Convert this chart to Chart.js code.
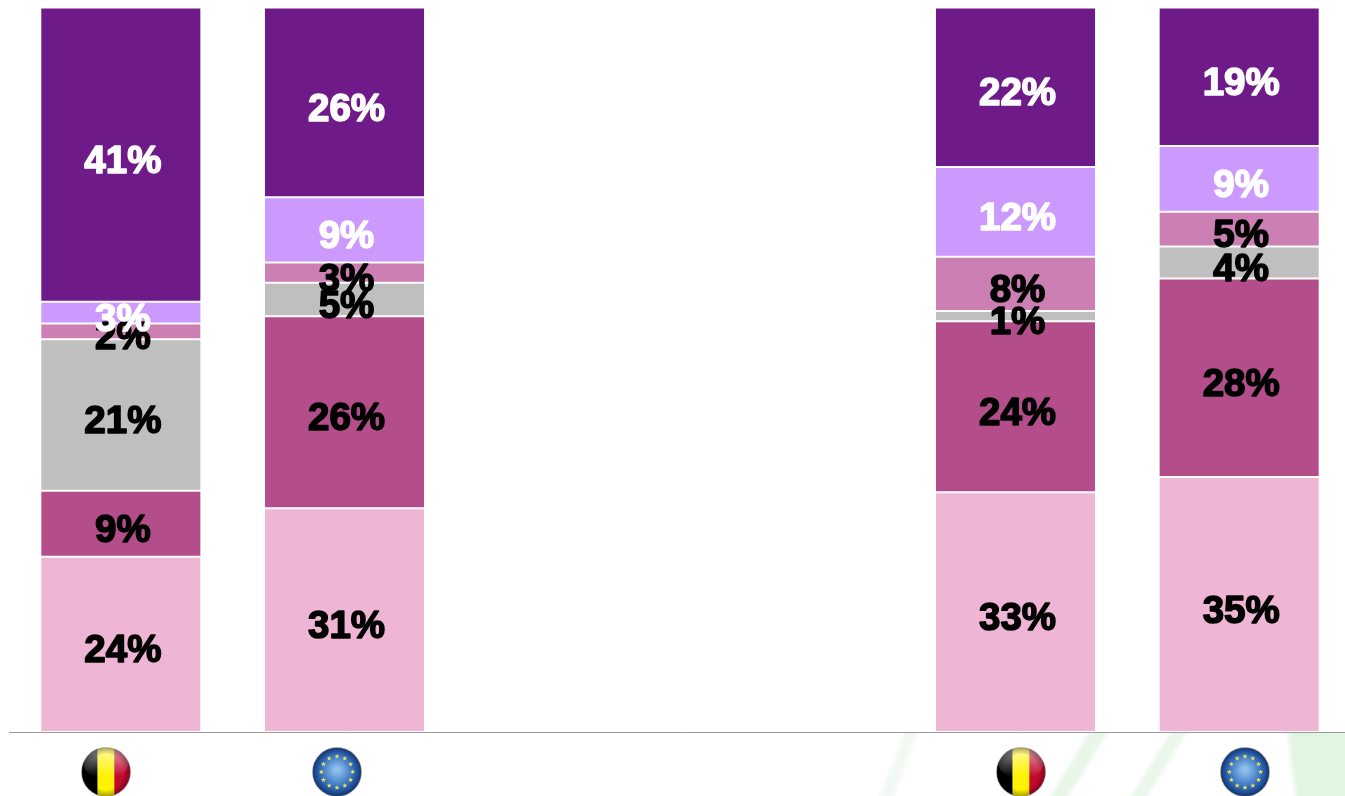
<!DOCTYPE html>
<html><head><meta charset="utf-8">
<style>html,body{margin:0;padding:0;background:#fff;overflow:hidden;width:1345px;height:796px}canvas{display:block}</style>
<script src="https://cdn.jsdelivr.net/npm/chart.js@4"></script></head>
<body><canvas id="c" width="1351" height="796" style="width:1351px;height:796px"></canvas>
<script>
const categories=['BE A','EU A','','','BE B','EU B'];
const seriesA=[24.2,30.9,null,null,33.1,35.2];
const seriesB=[9.1,26.5,null,null,23.6,27.4];
const seriesC=[20.9,4.6,null,null,1.4,4.4];
const seriesD=[2.2,2.8,null,null,7.5,4.8];
const seriesE=[3.0,9.0,null,null,12.4,9.1];
const seriesF=[40.6,26.2,null,null,22.0,19.1];
const labelsA=['24%','31%',null,null,'33%','35%'];
const labelsB=['9%','26%',null,null,'24%','28%'];
const labelsC=['21%','5%',null,null,'1%','4%'];
const labelsD=['2%','3%',null,null,'8%','5%'];
const labelsE=['3%','9%',null,null,'12%','9%'];
const labelsF=['41%','26%',null,null,'22%','19%'];
const colors=['#EEB5D4','#B34E8A','#BFBFBF','#CC7FB2','#CC99FF','#6E1A89'];
const textColors=['#000','#000','#000','#000','#fff','#fff'];
const allLabels=[labelsA,labelsB,labelsC,labelsD,labelsE,labelsF];
const allSeries=[seriesA,seriesB,seriesC,seriesD,seriesE,seriesF];
const names=['Series 1','Series 2','Series 3','Series 4','Series 5','Series 6'];

function star(ctx,x,y,r){ctx.beginPath();for(let i=0;i<10;i++){const a=-Math.PI/2+i*Math.PI/5,q=i%2?r*.42:r;ctx.lineTo(x+q*Math.cos(a),y+q*Math.sin(a));}ctx.closePath();ctx.fill();}
function flagBE(ctx,x,y,r){ctx.save();ctx.beginPath();ctx.arc(x,y,r,0,7);ctx.clip();
 ctx.fillStyle='#000';ctx.fillRect(x-r,y-r,2*r*.33,2*r);
 ctx.fillStyle='#FFF200';ctx.fillRect(x-r*.34,y-r,r*.68+.5,2*r);
 ctx.fillStyle='#C20A2E';ctx.fillRect(x+r*.34,y-r,r,2*r);
 let g=ctx.createLinearGradient(0,y-r,0,y+r*.2);g.addColorStop(0,'rgba(255,255,255,.62)');g.addColorStop(1,'rgba(255,255,255,0)');
 ctx.fillStyle=g;ctx.beginPath();ctx.ellipse(x,y-r*.35,r*.92,r*.62,0,0,7);ctx.fill();
 g=ctx.createRadialGradient(x,y,r*.72,x,y,r);g.addColorStop(0,'rgba(0,0,0,0)');g.addColorStop(1,'rgba(0,0,0,.35)');
 ctx.fillStyle=g;ctx.fillRect(x-r,y-r,2*r,2*r);ctx.restore();
 ctx.strokeStyle='rgba(150,150,150,.6)';ctx.lineWidth=1;ctx.beginPath();ctx.arc(x,y,r,0,7);ctx.stroke();}
function flagEU(ctx,x,y,r){ctx.save();ctx.beginPath();ctx.arc(x,y,r,0,7);ctx.clip();
 const g=ctx.createRadialGradient(x,y-r*.1,r*.1,x,y,r);g.addColorStop(0,'#8DBFEA');g.addColorStop(.55,'#3F78C4');g.addColorStop(.85,'#1D4C95');g.addColorStop(1,'#123063');
 ctx.fillStyle=g;ctx.fillRect(x-r,y-r,2*r,2*r);
 ctx.fillStyle='#EDE54A';for(let i=0;i<12;i++){const a=i*Math.PI/6;star(ctx,x+r*.64*Math.cos(a),y+r*.64*Math.sin(a),2.6);}
 ctx.restore();ctx.strokeStyle='rgba(150,150,150,.7)';ctx.lineWidth=1;ctx.beginPath();ctx.arc(x,y,r,0,7);ctx.stroke();}

const decor={id:'decor',beforeDraw(ch){const c=ch.ctx;c.save();
 c.fillStyle='#fff';c.fillRect(0,0,ch.width,ch.height);
 c.beginPath();c.rect(0,733,ch.width,70);c.clip();
 c.filter='blur(2px)';
 const stripes=[[[908,725],[921,725],[892,800],[878,800],'#F2F9F2'],[[1094,725],[1112,725],[1066,800],[1048,800],'#E8F6E8'],[[1175,725],[1191,725],[1145,800],[1129,800],'#EBF7EB'],[[1287,725],[1360,725],[1360,800],[1296,800],'#E2F4E2']];
 for(const s of stripes){c.fillStyle=s[4];c.beginPath();c.moveTo(...s[0]);c.lineTo(...s[1]);c.lineTo(...s[2]);c.lineTo(...s[3]);c.closePath();c.fill();}
 c.restore();},
 afterDraw(ch){const c=ch.ctx;c.save();
 flagBE(c,106,772,24.5);flagEU(c,337,772,24.5);flagBE(c,1021,772,24.5);flagEU(c,1245,772,24.5);
 c.textAlign='center';c.textBaseline='middle';c.font='bold 38.5px "Liberation Sans"';c.lineJoin='round';c.lineWidth=1.6;
 ch.data.datasets.forEach((d,i)=>{const m=ch.getDatasetMeta(i);m.data.forEach((el,j)=>{const t=allLabels[i][j];if(!t)return;
   const p=el.getCenterPoint();c.fillStyle=textColors[i];c.strokeStyle=textColors[i];
   c.strokeText(t,p.x+2,p.y+7.5);c.fillText(t,p.x+2,p.y+7.5);});});
 c.restore();}};

new Chart(document.getElementById('c'),{type:'bar',
 data:{labels:categories,datasets:allSeries.map((s,i)=>({label:names[i],data:s,backgroundColor:colors[i],borderColor:'#fff',borderWidth:1,borderSkipped:false,barPercentage:0.72,categoryPercentage:1}))},
 options:{responsive:false,animation:false,devicePixelRatio:1,
  layout:{padding:{left:9,right:0,top:7.5,bottom:64}},
  plugins:{legend:{display:false},tooltip:{enabled:false},title:{display:false}},
  scales:{x:{stacked:true,grid:{display:false,drawTicks:false},border:{display:true,color:'#999',width:1},ticks:{display:false}},
          y:{stacked:true,display:false,min:0,max:100}}},
 plugins:[decor]});
</script></body></html>
